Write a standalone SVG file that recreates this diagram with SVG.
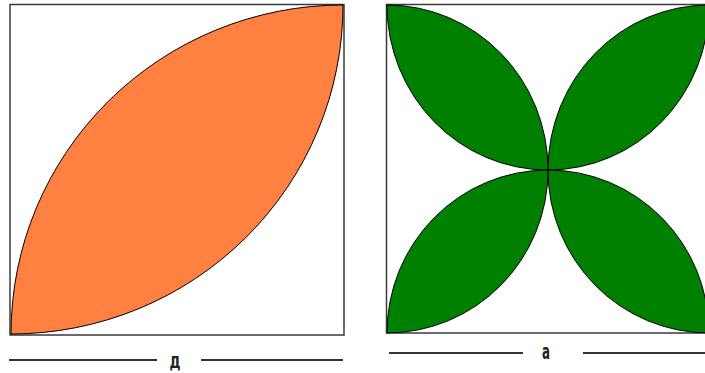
<svg xmlns="http://www.w3.org/2000/svg" width="705" height="373" viewBox="0 0 705 373">
<style>
.frame{fill:#fff;stroke:#3a3a3a;stroke-width:1.5}
.leafO{fill:#FF8040;stroke:#000;stroke-width:1}
.leafG{fill:#008000;stroke:#000;stroke-width:1}
.dim{stroke:#333;stroke-width:2;fill:none}
.lbl{font-family:"DejaVu Sans Condensed","DejaVu Sans",sans-serif;font-weight:bold;fill:#222;text-anchor:middle}
</style>
<rect width="705" height="373" fill="#fff"/>
<g id="square-d">
<rect class="frame" x="10" y="4.5" width="334" height="330.5"/>
<path class="leafO" d="M11,334 A332,329 0 0 1 343,5 A332,329 0 0 1 11,334 Z"/>
</g>
<g id="square-a">
<rect class="frame" x="386.5" y="4.5" width="323" height="328.5"/>
<path id="leaf-tl" class="leafG" d="M387,5 A161,165 0 0 1 548,170 A161,165 0 0 1 387,5 Z"/>
<path id="leaf-tr" class="leafG" d="M548,170 A161,165 0 0 1 709,5 A161,165 0 0 1 548,170 Z"/>
<path id="leaf-bl" class="leafG" d="M387,333 A161,163 0 0 1 548,170 A161,163 0 0 1 387,333 Z"/>
<path id="leaf-br" class="leafG" d="M548,170 A161,163 0 0 1 709,333 A161,163 0 0 1 548,170 Z"/>
</g>
<g id="connectors">
<line class="dim" x1="9" y1="360" x2="157" y2="360"/>
<line class="dim" x1="201" y1="360" x2="343" y2="360"/>
<line class="dim" x1="389" y1="353" x2="523" y2="353"/>
<line class="dim" x1="583" y1="353" x2="705" y2="353"/>
</g>
<g id="label-d"><text class="lbl" x="175" y="368" font-size="16" textLength="11" lengthAdjust="spacingAndGlyphs">Д</text></g>
<g id="label-a"><text class="lbl" x="546" y="359" font-size="21" textLength="8" lengthAdjust="spacingAndGlyphs">a</text></g>
</svg>
